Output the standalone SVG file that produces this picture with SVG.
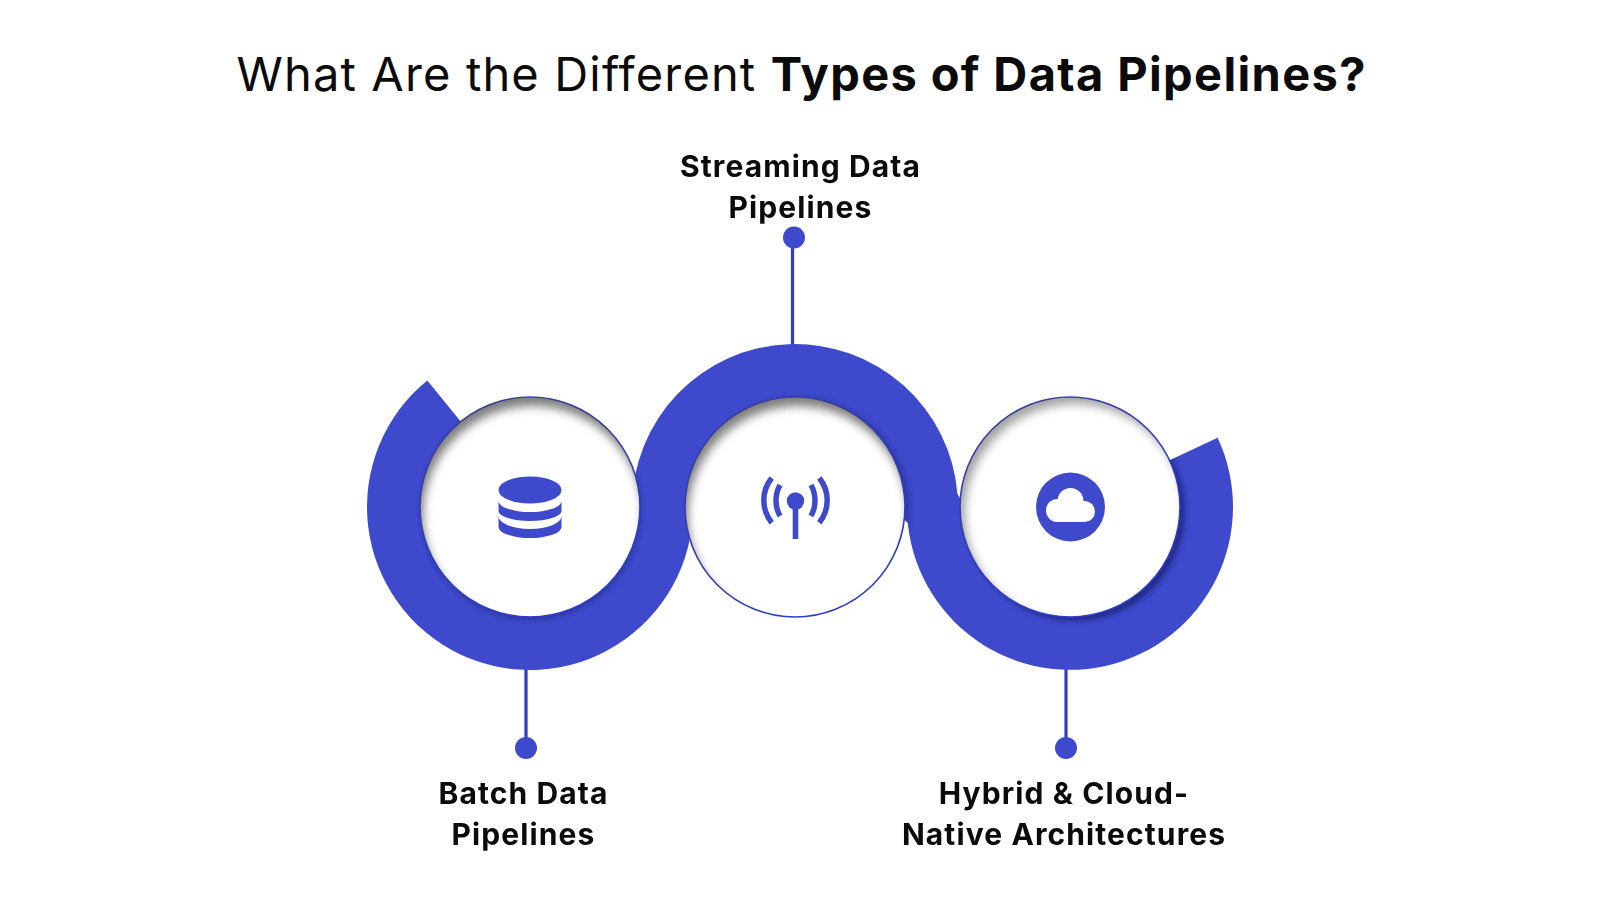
<svg xmlns="http://www.w3.org/2000/svg" xmlns:xlink="http://www.w3.org/1999/xlink" width="1600" height="900" viewBox="0 0 1600 900">
<style>
.ring{fill:#3e4acb}
.disc{fill:#fff;stroke:#2f3cc6;stroke-width:1.6}
.ic{fill:#3e4acb}
.arc{fill:none;stroke:#3e4acb;stroke-width:5.5}
.stem{stroke:#2f3cc6;stroke-width:3.2;fill:none}
.dot{fill:#3e4acb}
.sh{fill:none;stroke:#4a4a4a;stroke-width:24}
text{font-family:"Inter","Liberation Sans",sans-serif;fill:#0b0b0b}
.title{font-size:47px;font-weight:400;letter-spacing:1.15px}
.title tspan{font-weight:700;letter-spacing:1.35px}
.lab{font-size:30px;font-weight:700;text-anchor:middle;letter-spacing:1.1px}
</style>
<defs>
<path id="rL" d="M427.300 380.400A163 163 0 1 0 693 507L640 507A110 110 0 1 1 460.700 421.600Z"/>
<path id="rC" d="M632 507A163 163 0 0 1 957.480 494L961 500L961 507L905 507A110 110 0 0 0 685 507Z"/>
<path id="rR" d="M907 507A163 163 0 1 0 1217.600 437.700L1169.600 460.200A110 110 0 1 1 960 507ZM903 506L903 518L907.800 523L907.500 506Z"/>
<filter id="bl" x="-30%" y="-30%" width="160%" height="160%"><feGaussianBlur stdDeviation="5"/></filter>
<filter id="bs" x="-30%" y="-30%" width="160%" height="160%"><feGaussianBlur stdDeviation="2.500"/></filter>
<clipPath id="cRing"><use xlink:href="#rL"/><use xlink:href="#rC"/><use xlink:href="#rR"/></clipPath>
<clipPath id="cL"><circle cx="530" cy="507" r="110"/></clipPath>
<clipPath id="cC"><circle cx="795" cy="507" r="110"/></clipPath>
<clipPath id="cR"><circle cx="1070" cy="507" r="110"/></clipPath>
</defs>
<rect width="1600" height="900" fill="#fff"/>
<text id="title" class="title" x="236.500" y="91">What Are the Different <tspan>Types of Data Pipelines?</tspan></text>
<g id="connectors">
<line class="stem" x1="792.500" y1="238" x2="792.500" y2="346"/>
<line class="stem" x1="526" y1="668" x2="526" y2="748"/>
<line class="stem" x1="1066" y1="668" x2="1066" y2="748"/>
<circle class="dot" cx="794" cy="237.500" r="11"/>
<circle class="dot" cx="526" cy="748" r="11"/>
<circle class="dot" cx="1066" cy="748" r="11"/>
</g>
<g id="ribbon">
<use xlink:href="#rL" class="ring"/>
<use xlink:href="#rC" class="ring"/>
<use xlink:href="#rR" class="ring"/>
<g clip-path="url(#cRing)" fill="#1c2780" filter="url(#bs)">
<circle cx="531" cy="510" r="110" opacity=".55"/>
<circle cx="799" cy="508" r="110" opacity=".55"/>
<circle cx="1075" cy="511" r="110" opacity=".85"/>
</g>
</g>
<g id="node-batch">
<circle class="disc" cx="530" cy="507" r="110"/>
<g clip-path="url(#cL)"><circle class="sh" cx="533" cy="516" r="122" filter="url(#bl)" opacity=".7"/></g>
<path class="ic" d="M498.500 501A31.500 11 0 0 0 561.500 501L561.500 511A31.500 10 0 0 1 498.500 511ZM498.500 516A31.500 13 0 0 0 561.500 516L561.500 527A31.500 11 0 0 1 498.500 527Z"/>
<ellipse class="ic" cx="530" cy="490" rx="31.500" ry="13.500"/>
</g>
<g id="node-streaming">
<circle class="disc" cx="795" cy="507" r="110"/>
<g clip-path="url(#cC)"><circle class="sh" cx="798" cy="516" r="122" filter="url(#bl)" opacity=".7"/></g>
<circle class="ic" cx="795.500" cy="501" r="8.700"/>
<rect class="ic" x="792.700" y="503" width="5.600" height="36"/>
<path class="arc" d="M780 485A32 32 0 0 0 780 516M811 485A32 32 0 0 1 811 516"/>
<path class="arc" d="M771.700 478A35.600 35.600 0 0 0 771.700 522.700M819.300 478A35.600 35.600 0 0 1 819.300 522.700"/>
</g>
<g id="node-hybrid">
<circle class="disc" cx="1070" cy="507" r="110"/>
<g clip-path="url(#cR)"><circle class="sh" cx="1075" cy="514" r="122" filter="url(#bl)" opacity=".5"/></g>
<circle class="ic" cx="1070.500" cy="507" r="34.500"/>
<g fill="#fff">
<circle cx="1057.500" cy="510.500" r="11.500"/>
<circle cx="1070.500" cy="501" r="13"/>
<circle cx="1084.500" cy="511.500" r="10.500"/>
<rect x="1057.500" y="505" width="27" height="17"/>
</g>
</g>
<g id="label-streaming"><text class="lab" x="800.500" y="176.500">Streaming Data</text><text class="lab" x="800.500" y="217.500">Pipelines</text></g>
<g id="label-batch"><text class="lab" x="523.500" y="804">Batch Data</text><text class="lab" x="523.500" y="845">Pipelines</text></g>
<g id="label-hybrid"><text class="lab" x="1064" y="804">Hybrid &amp; Cloud-</text><text class="lab" x="1064" y="845">Native Architectures</text></g>
</svg>
